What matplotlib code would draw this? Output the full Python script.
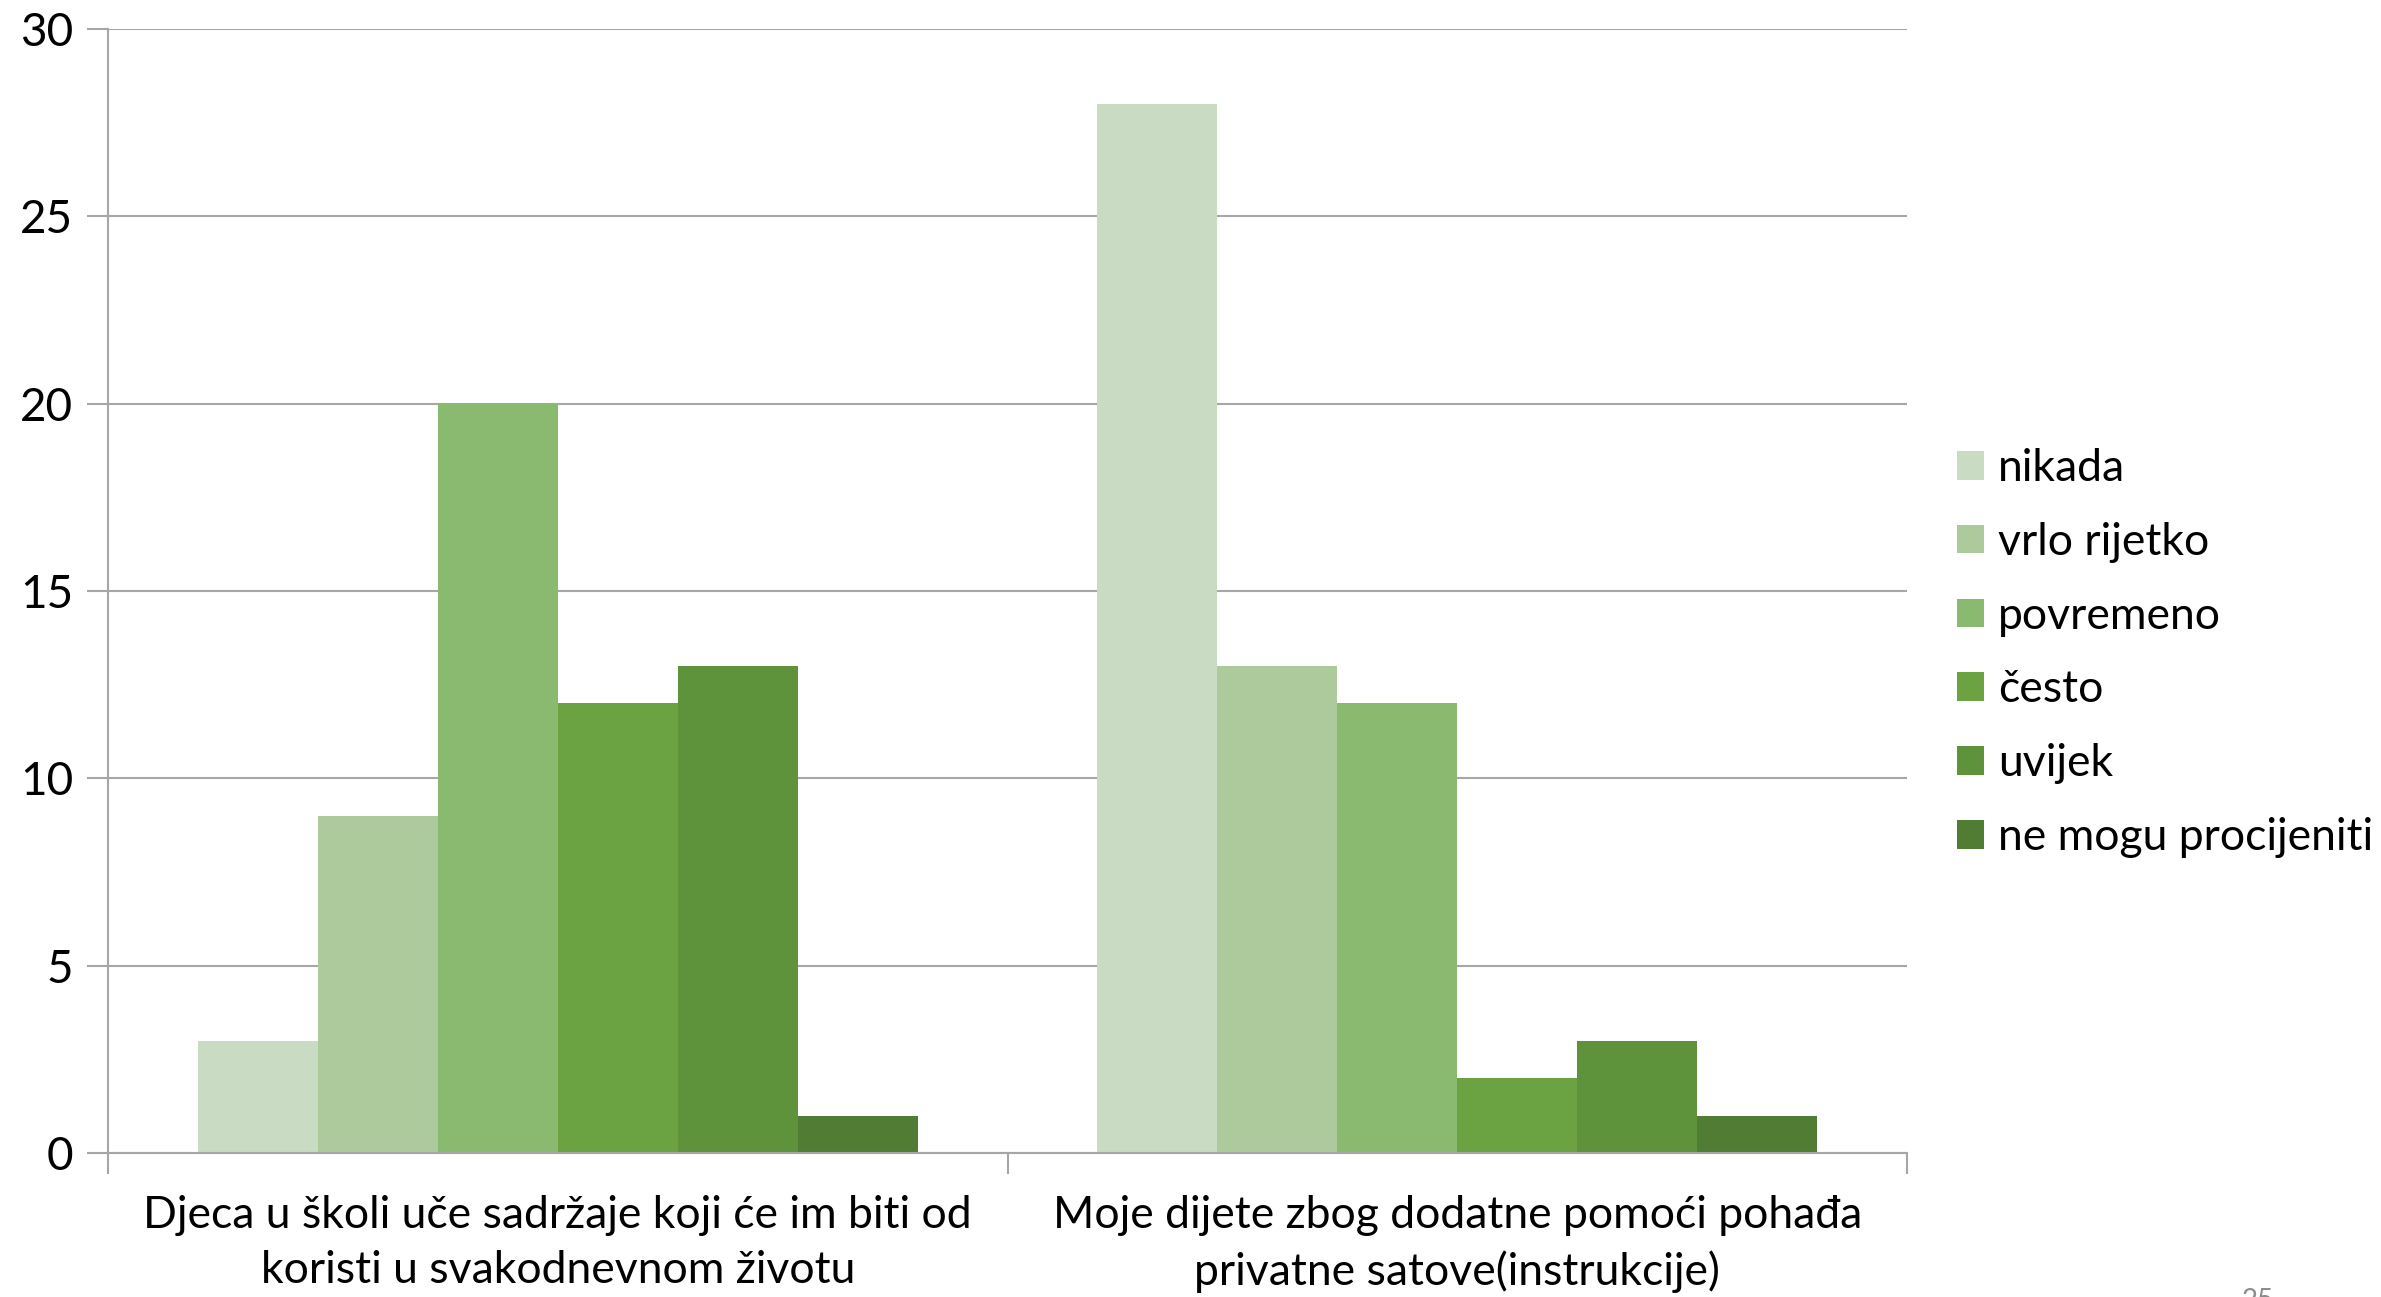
import matplotlib.pyplot as plt
import numpy as np
from matplotlib.patches import Patch

plt.rcParams["font.family"] = ["Lato", "DejaVu Sans"]

categories = [
    "Djeca u školi uče sadržaje koji će im biti od\nkoristi u svakodnevnom životu",
    "Moje dijete zbog dodatne pomoći pohađa\nprivatne satove(instrukcije)",
]
series = ["nikada", "vrlo rijetko", "povremeno", "često", "uvijek", "ne mogu procijeniti"]
values = [
    [3, 28],
    [9, 13],
    [20, 12],
    [12, 2],
    [13, 3],
    [1, 1],
]
colors = ["#C9DBC2", "#ADCA9D", "#8AB970", "#6BA342", "#5E923B", "#507D33"]
yticks = [0, 5, 10, 15, 20, 25, 30]

W, H = 2381, 1297
fig = plt.figure(figsize=(W / 100, H / 100), dpi=100)
ax = fig.add_axes([108 / W, 1 - 1153 / H, (1907 - 108) / W, (1153 - 29) / H])

x = np.arange(len(categories))
bw = 0.8 / len(series)
for i, (name, vals) in enumerate(zip(series, values)):
    ax.bar(x - 0.4 + bw * (i + 0.5), vals, width=bw, color=colors[i],
           edgecolor="none", zorder=2, label=name)

ax.set_xlim(-0.5, len(categories) - 0.5)
ax.set_ylim(0, 30)
ax.set_yticks(yticks)
ax.yaxis.grid(True, color="#A6A6A6", lw=1.5, zorder=0)
ax.set_axisbelow(True)

for s in ["top", "right"]:
    ax.spines[s].set_visible(False)
for s in ["left", "bottom"]:
    ax.spines[s].set_color("#A6A6A6")
    ax.spines[s].set_linewidth(1.5)

ax.tick_params(axis="y", length=15, width=1.5, color="#A6A6A6", labelsize=33, pad=10)
ax.set_xticks([-0.5, 0.5, 1.5])
ax.set_xticklabels([])
ax.set_xticks(x, minor=True)
ax.set_xticklabels(categories, minor=True, fontsize=32, linespacing=1.42)
ax.tick_params(axis="x", which="major", length=15, width=1.5, color="#A6A6A6")
ax.tick_params(axis="x", which="minor", length=0, pad=30)

handles = [Patch(facecolor=c, edgecolor="none") for c in colors]
fig.legend(handles, series, loc="upper left", bbox_to_anchor=(1939 / W, 1 - 430 / H),
           frameon=False, fontsize=32, handlelength=0.62, handleheight=0.62,
           handletextpad=0.3, labelspacing=0.74, borderaxespad=0)

fig.text(2242 / W, 1 - 1288 / H, "25", fontsize=20, color="#8C8C8C", va="top", ha="left")

fig.savefig("out.png", dpi=100)
